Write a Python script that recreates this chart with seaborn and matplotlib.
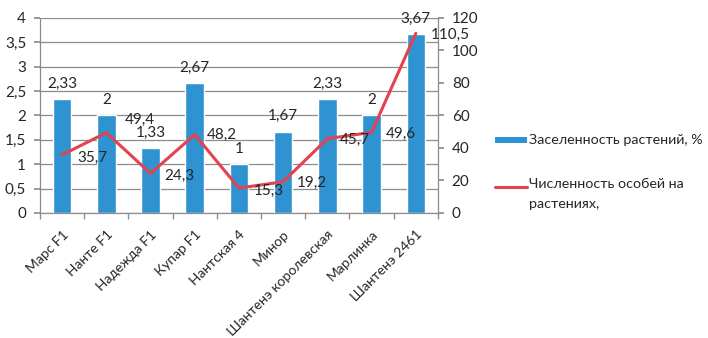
import matplotlib
matplotlib.use("Agg")
import matplotlib.pyplot as plt
import seaborn as sns
import pandas as pd
import numpy as np
from matplotlib.ticker import FuncFormatter, MultipleLocator
from matplotlib.patches import Rectangle
from matplotlib.lines import Line2D

categories = ["Марс F1", "Нанте F1", "Надежда F1", "Купар F1", "Нантская 4",
              "Минор", "Шантенэ королевская", "Марлинка", "Шантенэ 2461"]
infestation = [2.33, 2, 1.33, 2.67, 1, 1.67, 2.33, 2, 3.67]
count = [35.7, 49.4, 24.3, 48.2, 15.3, 19.2, 45.7, 49.6, 110.5]
bar_name = "Заселенность растений, %"
line_name = "Численность особей на\nрастениях,"

df = pd.DataFrame({"cat": categories, "inf": infestation, "cnt": count})

sns.set_theme(style="white")
plt.rcParams["font.family"] = ["Lato", "DejaVu Sans"]

BLUE = "#2f93d1"
RED = "#e2434f"
GRID = "#8c8c8c"
FS = 11
W, H = 708, 338

fig = plt.figure(figsize=(7.08, 3.38), dpi=100)
ax = fig.add_axes([0.0565, 0.370, 0.562, 0.577])
sns.barplot(data=df, x="cat", y="inf", color=BLUE, width=0.42, ax=ax, saturation=1)
ax.set_ylim(0, 4)
ax.set_xlim(-0.5, len(categories) - 0.5)
ax.yaxis.set_major_locator(MultipleLocator(0.5))
fmt = lambda v, p: (f"{v:g}").replace(".", ",")
ax.yaxis.set_major_formatter(FuncFormatter(fmt))
ax.grid(axis="y", color=GRID, linewidth=0.9)
ax.set_axisbelow(True)
ax.set_xlabel("")
ax.set_ylabel("")
for s in ["top", "right"]:
    ax.spines[s].set_visible(False)
for s in ["left", "bottom"]:
    ax.spines[s].set_color(GRID)
    ax.spines[s].set_linewidth(0.9)
ax.tick_params(axis="y", left=True, length=4, color=GRID, labelsize=FS, pad=6)
ax.set_xticks(range(len(categories)))
ax.set_xticklabels(categories, rotation=45, ha="right", rotation_mode="anchor", fontsize=10)
ax.tick_params(axis="x", bottom=False, pad=5)
ax.set_xticks(np.arange(-0.5, len(categories), 1.0), minor=True)
ax.tick_params(axis="x", which="minor", bottom=True, length=4, color=GRID)

for i, v in enumerate(infestation):
    ax.annotate(f"{v:g}".replace(".", ","), (i, v), xytext=(0, 6),
                textcoords="offset points", ha="center", va="bottom", fontsize=FS)

ax2 = ax.twinx()
sns.lineplot(data=df, x="cat", y="cnt", color=RED, linewidth=2.2, ax=ax2, legend=False)
ax2.set_ylim(0, 120)
ax2.yaxis.set_major_locator(MultipleLocator(20))
ax2.set_ylabel("")
for s in ["top", "left", "bottom"]:
    ax2.spines[s].set_visible(False)
ax2.spines["right"].set_color(GRID)
ax2.spines["right"].set_linewidth(0.9)
ax2.tick_params(axis="y", right=True, length=4, color=GRID, labelsize=FS, pad=6)

offsets = [(11, -2), (13, 9), (10, -2), (9, 0), (11, -2), (10, -1), (9, -1), (10, -1), (11, -1)]
for i, v in enumerate(count):
    ax2.annotate(f"{v:g}".replace(".", ","), (i, v), xytext=offsets[i],
                 textcoords="offset points", ha="left", va="center", fontsize=FS)

# legend (manual, Excel-like)
LFS = 10.3
fig.add_artist(Rectangle((495 / W, 1 - 143 / H), 32 / W, 6 / H,
                         transform=fig.transFigure, facecolor=BLUE, edgecolor="none"))
fig.text(529 / W, 1 - 140 / H, bar_name, fontsize=LFS, va="center", ha="left")
fig.add_artist(Line2D([495 / W, 527 / W], [1 - 187 / H, 1 - 187 / H],
                      transform=fig.transFigure, color=RED, linewidth=2.2))
fig.text(529 / W, 1 - 178 / H, line_name, fontsize=LFS, va="top", ha="left",
         linespacing=1.75)

fig.savefig("out.png", dpi=100)
